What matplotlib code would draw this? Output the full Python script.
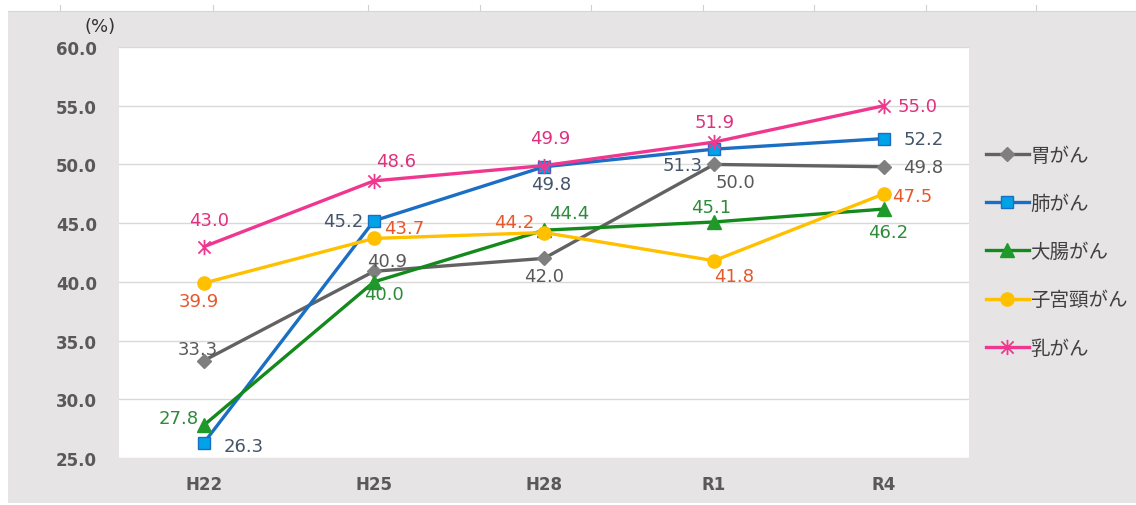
import matplotlib
matplotlib.use("Agg")
import matplotlib.pyplot as plt
from matplotlib.patches import Rectangle
from matplotlib.lines import Line2D
from matplotlib.path import Path

plt.rcParams['font.family'] = ['DejaVu Sans', 'Noto Sans CJK JP']

# ---- data ----
years = ["H22", "H25", "H28", "R1", "R4"]
stomach = [33.3, 40.9, 42.0, 50.0, 49.8]
lung = [26.3, 45.2, 49.8, 51.3, 52.2]
colon = [27.8, 40.0, 44.4, 45.1, 46.2]
cervical = [39.9, 43.7, 44.2, 41.8, 47.5]
breast = [43.0, 48.6, 49.9, 51.9, 55.0]
series_names = ["胃がん", "肺がん", "大腸がん", "子宮頸がん", "乳がん"]
yticks = [25.0, 30.0, 35.0, 40.0, 45.0, 50.0, 55.0, 60.0]

W, H = 1136, 506
fig = plt.figure(figsize=(W / 100, H / 100), dpi=100)
fig.patch.set_facecolor("white")

# gray chart background
bg = Rectangle((8 / W, 1 - 504 / H), (W - 8) / W, (504 - 12) / H,
               transform=fig.transFigure, facecolor="#e6e4e5",
               edgecolor="none", zorder=-10)
fig.add_artist(bg)
# faint marks in the top strip
for xp in [60, 213, 368, 480, 591, 703, 814, 926, 1036]:
    fig.add_artist(Line2D([xp / W, xp / W], [1 - 6 / H, 1 - 12 / H],
                          transform=fig.transFigure, color="#d0d0d0", lw=0.8, zorder=-5))
fig.add_artist(Line2D([8 / W, 1], [1 - 12 / H, 1 - 12 / H],
                      transform=fig.transFigure, color="#d6d6d6", lw=0.8, zorder=-5))

ax = fig.add_axes([119 / W, 1 - 459 / H, (969 - 119) / W, (459 - 48) / H])
ax.set_zorder(1)
ax.set_facecolor("white")
x = list(range(len(years)))
ax.set_xlim(-0.5, len(years) - 0.5)
ax.set_ylim(25, 60)
ax.set_yticks(yticks)
ax.set_yticklabels([f"{v:.1f}" for v in yticks], fontsize=12, fontweight="bold",
                   color="#595959")
ax.set_xticks(x)
ax.set_xticklabels(years, fontsize=12, fontweight="bold", color="#595959")
ax.tick_params(axis="y", length=0, pad=16)
ax.tick_params(axis="x", length=0, pad=12)
for s in ax.spines.values():
    s.set_visible(False)
ax.grid(axis="y", color="#d9d9d9", lw=1)
ax.set_axisbelow(True)

asterisk = Path([(-1, -1), (1, 1), (-1, 1), (1, -1), (0, -1.25), (0, 1.25)],
                [Path.MOVETO, Path.LINETO, Path.MOVETO, Path.LINETO, Path.MOVETO, Path.LINETO])

styles = [
    dict(color="#626262", marker="D", mfc="#7f7f7f", mec="#7f7f7f", ms=7.5),
    dict(color="#1a6fc4", marker="s", mfc="#00a2e8", mec="#1a6fc4", ms=8.5),
    dict(color="#138a1b", marker="^", mfc="#1f9a2a", mec="#1f9a2a", ms=10),
    dict(color="#ffc000", marker="o", mfc="#ffc000", mec="#ffc000", ms=9.5),
    dict(color="#f0378f", marker=asterisk, mfc="none", mec="#f0378f", ms=11, mew=1.3),
]
data = [stomach, lung, colon, cervical, breast]
handles = []
for vals, st, name in zip(data, styles, series_names):
    ln, = ax.plot(x, vals, lw=2.4, label=name, zorder=3, **st)
    handles.append(ln)

label_colors = ["#595959", "#44546a", "#2e8b3b", "#e8572a", "#e0307f"]
# offsets in pixels (dx, dy, ha)
offsets = [
    [(-6, 12, "center"), (13, 10, "center"), (0, -18, "center"), (21, -18, "center"), (19, 0, "left")],
    [(20, -3, "left"), (-11, 0, "right"), (7, -17, "center"), (-31, -16, "center"), (20, 0, "left")],
    [(-5, 7, "right"), (10, -12, "center"), (25, 17, "center"), (-3, 15, "center"), (4, -23, "center")],
    [(-5, -18, "center"), (30, 10, "center"), (-30, 11, "center"), (20, -15, "center"), (8, -2, "left")],
    [(5, 27, "center"), (22, 20, "center"), (6, 28, "center"), (1, 20, "center"), (14, 0, "left")],
]
for vals, offs, col in zip(data, offsets, label_colors):
    for xi, v, (dx, dy, ha) in zip(x, vals, offs):
        ax.annotate(f"{v:.1f}", (xi, v), xytext=(dx, dy), textcoords="offset pixels",
                    ha=ha, va="center", fontsize=13, color=col, zorder=5)

fig.text(100 / W, 1 - 27 / H, "(%)", ha="center", va="center", fontsize=13, color="#333333")

fig.legend(handles=handles, labels=series_names, loc="upper left",
           bbox_to_anchor=(978 / W, 1 - 138 / H), frameon=False,
           prop={"family": ["Noto Sans CJK JP"], "size": 14},
           labelcolor="#404040", handlelength=2.2, handletextpad=0.1,
           labelspacing=1.4, numpoints=1, borderaxespad=0)

fig.savefig("out.png", dpi=100)
